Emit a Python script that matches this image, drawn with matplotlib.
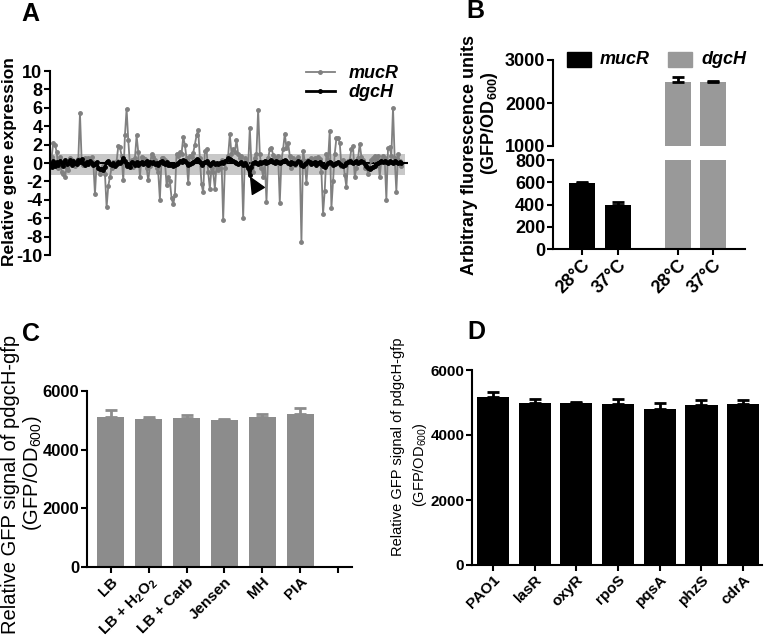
import numpy as np
import matplotlib
matplotlib.use("Agg")
import matplotlib.pyplot as plt

plt.rcParams['font.family'] = ['Liberation Sans', 'DejaVu Sans']
plt.rcParams['axes.linewidth'] = 1.5
plt.rcParams['axes.unicode_minus'] = False

# panel A: relative expression across conditions
mucR = [0.7, 2.2, 2.0, 1.2, -0.5, 0.6, -1.0, -1.2, -1.5, -0.5,
        -0.8, 0.5, 0.3, 0.2, -0.3, 0.2, 0.4, 5.4, 0.3, -0.2,
        0.5, 0.3, 0.5, 0.2, 0.6, 0.1, -3.4, 0.0, -0.5, -1.2,
        -0.8, -0.3, -1.2, -4.8, -2.5, -1.5, -0.5, 0.1, -0.2, 0.2,
        1.8, 1.7, 0.8, -1.9, 3.0, 5.9, 2.5, -0.2, 0.3, -0.4,
        0.5, 3.0, 1.2, -1.5, 0.7, 0.5, 0.4, -0.5, -1.9, -0.3,
        1.0, 0.6, 0.3, -0.5, -1.0, -4.0, 0.5, 0.5, 0.3, -2.4,
        -1.5, -2.0, -3.8, -4.5, -3.5, 1.0, 0.8, 1.2, 1.0, 2.8,
        2.0, 0.5, -2.2, 0.8, 0.6, 1.1, 2.0, 3.0, 3.6, 0.5,
        -2.3, -3.2, 1.3, 1.5, -1.0, -2.8, -0.5, -1.0, -2.8, -0.3,
        -0.8, -0.5, 0.3, -6.2, -0.5, 0.3, 0.8, 3.1, 1.0, 1.5,
        1.2, 2.5, 1.0, 0.5, 0.8, -6.0, 0.5, 0.2, -0.3, 3.8,
        -0.3, -1.0, 0.5, 1.0, 5.8, 1.0, -0.5, -1.5, 0.2, -4.2,
        0.5, 1.5, 1.6, 0.9, 0.5, 0.3, 0.8, -4.3, 0.3, 1.5,
        3.2, 1.6, 2.2, 0.8, -0.5, 0.5, -0.2, 0.3, 0.7, 0.2,
        -8.6, 1.3, 0.2, -2.2, 0.3, 0.2, 0.5, 0.3, 0.5, 0.1,
        0.6, 0.4, -1.0, -5.5, -3.0, 1.0, 0.3, 3.5, -4.9, -2.0,
        1.0, 2.7, 2.7, 2.2, -0.3, 0.3, -1.3, -2.6, 0.2, 0.3,
        1.5, 1.8, -1.5, -0.5, 0.5, 2.1, 0.7, 0.3, -0.5, -0.2,
        -1.2, -0.5, 0.3, 0.5, 0.8, 0.2, 0.8, -1.5, 0.3, 0.8,
        0.5, -4.0, 1.6, 1.7, 0.8, 6.0, 0.5, -3.1, 1.0, 0.2, -0.3]
dgcH = [-0.4, 0.2, -0.3, 0.1, -0.2, 0.2, 0.0, -0.3, 0.3, -0.1,
        0.0, 0.3, -0.2, 0.2, 0.0, -0.1, 0.3, 0.1, 0.4, 0.0,
        -0.2, 0.1, -0.1, 0.2, 0.0, -0.2, -0.1, 0.1, -0.5, -0.7,
        -0.6, -0.8, -0.4, 0.1, 0.2, -0.1, -0.2, 0.0, -0.3, -0.1,
        0.1, 0.0, 0.2, 0.5, 0.2, -0.3, -0.1, -0.4, 0.1, 0.0,
        -0.2, 0.1, -0.2, 0.0, 0.1, -0.1, 0.0, 0.2, -0.2, 0.1,
        0.0, 0.1, -0.1, 0.0, -0.2, 0.1, 0.2, 0.0, -0.1, 0.1,
        -0.2, -0.2, -0.1, -0.3, -0.2, -0.1, 0.0, 0.2, 0.1, 0.3,
        0.2, 0.0, -0.2, -0.1, 0.0, 0.1, 0.2, 0.4, 0.3, 0.1,
        -0.2, 0.0, 0.1, 0.2, 0.0, -0.2, 0.0, 0.1, -0.1, 0.0,
        -0.1, 0.0, 0.1, 0.0, 0.2, 0.3, 0.5, 0.4, 0.3, 0.2,
        0.1, 0.0, -0.1, 0.0, 0.1, -0.2, 0.0, -0.2, -0.5, -1.3,
        -0.4, 0.0, 0.1, 0.0, -0.1, 0.1, 0.0, 0.1, 0.2, 0.0,
        0.1, 0.2, 0.3, 0.1, 0.0, 0.2, 0.1, 0.0, 0.1, 0.2,
        0.3, 0.2, 0.0, -0.1, 0.1, 0.0, -0.1, 0.0, 0.2, 0.1,
        -0.2, -0.3, -0.1, 0.0, 0.2, 0.1, -0.1, 0.0, 0.1, -0.2,
        0.0, 0.1, -0.1, -0.3, -0.4, -0.2, 0.0, 0.1, 0.0, -0.2,
        -0.1, 0.0, 0.1, -0.1, -0.2, -0.3, -0.2, 0.0, 0.1, 0.2,
        0.1, 0.0, 0.1, 0.2, 0.0, 0.1, 0.2, 0.1, -0.1, -0.3,
        -0.5, -0.7, -0.5, -0.4, -0.3, -0.1, 0.0, 0.1, 0.2, 0.1,
        0.2, 0.1, 0.0, 0.2, 0.1, 0.0, 0.2, 0.1, 0.0, 0.1, 0.0]
band_lo, band_hi = -1.3, 1.0

# panel B
b_labels = ["28°C", "37°C", "28°C", "37°C"]
b_pos = [0, 1, 2.65, 3.62]
b_vals = [590, 400, 2495, 2490]
b_err = [8, 18, 100, 15]

# panel C
c_labels = ["LB", "LB + H$_\\mathregular{2}$O$_\\mathregular{2}$", "LB + Carb", "Jensen", "MH", "PIA", ""]
c_vals = [5100, 5050, 5070, 5000, 5130, 5220]
c_err = [250, 80, 100, 40, 100, 200]

# panel D
d_labels = ["PAO1", "lasR", "oxyR", "rpoS", "pqsA", "phzS", "cdrA"]
d_vals = [5180, 4980, 4990, 4960, 4800, 4930, 4940]
d_err = [150, 130, 40, 140, 170, 160, 140]

W, H = 766, 639
fig = plt.figure(figsize=(W / 100, H / 100), dpi=100)

def box(l, t, r, b):
    return [l / W, 1 - b / H, (r - l) / W, (b - t) / H]

def ftext(px, py, s, **kw):
    kw.setdefault('ha', 'center')
    return fig.text(px / W, 1 - py / H, s, va='center', **kw)

def prism(ax, fs):
    ax.spines['top'].set_visible(False)
    ax.spines['right'].set_visible(False)
    ax.tick_params(direction='out', length=4, width=1.5, labelsize=fs, pad=1.5)
    for t in ax.get_yticklabels() + ax.get_xticklabels():
        t.set_fontweight('bold')

# ---------- A ----------
axA = fig.add_axes(box(50, 71, 408, 255))
x = np.arange(len(mucR))
axA.fill_between([-0.5, 212], band_lo, band_hi, color='#c8c8c8', lw=0, zorder=0)
axA.axhline(0, color='black', lw=1.5, zorder=1)
axA.plot(x, mucR, '-o', color='#808080', lw=1.3, ms=2.5, label='mucR', zorder=2)
axA.plot(x, dgcH, '-o', color='black', lw=2, ms=2.5, label='dgcH', zorder=3)
axA.annotate('', xy=(119.5, -1.6), xytext=(124, -3.0),
             arrowprops=dict(facecolor='black', edgecolor='black', width=1.5, headwidth=10, headlength=11))
axA.set_xlim(-1, 214)
axA.set_ylim(-10, 10)
axA.set_yticks(range(-10, 11, 2))
axA.set_xticks([])
axA.spines['bottom'].set_visible(False)
prism(axA, 13)
ftext(10, 162, 'Relative gene expression', rotation=90, fontsize=12.5, fontweight='bold')
axA.legend(loc='upper right', bbox_to_anchor=(1.0, 1.08), frameon=False, handlelength=1.6,
           prop=dict(size=13, weight='bold', style='italic'), borderpad=0, labelspacing=0.1)

# ---------- B ----------
axBt = fig.add_axes(box(553, 60, 745, 146))
axBb = fig.add_axes(box(553, 160, 745, 249))
colors = ['black', 'black', '#999999', '#999999']
for ax in (axBt, axBb):
    ax.bar(b_pos, b_vals, width=0.72, color=colors)
    ax.errorbar(b_pos, b_vals, yerr=[[0] * 4, b_err], fmt='none', ecolor='black', elinewidth=2, capsize=4, capthick=2)
    ax.set_xlim(-0.8, 4.5)
axBt.set_ylim(1000, 3000)
axBt.set_yticks([1000, 2000, 3000])
axBt.spines['bottom'].set_visible(False)
axBt.set_xticks([])
axBb.set_ylim(0, 800)
axBb.set_yticks(range(0, 801, 200))
axBb.set_xticks(b_pos)
axBb.set_xticklabels(b_labels, rotation=45, ha='right', rotation_mode='anchor')
prism(axBt, 13)
prism(axBb, 13)
ftext(470, 155, 'Arbitrary fluorescence units', rotation=90, fontsize=13, fontweight='bold')
ftext(490, 123, '(GFP/OD$_\\mathregular{600}$)', rotation=90, fontsize=13, fontweight='bold')
# legend of panel B drawn as figure patches
for (l, r), c, name in [((567, 591), 'black', 'mucR'), ((668, 692), '#999999', 'dgcH')]:
    fig.patches.append(plt.Rectangle((l / W, 1 - 67 / H), (r - l) / W, 15 / H, color=c,
                                     transform=fig.transFigure, figure=fig))
    ftext(r + 9, 60, name, ha='left', fontsize=13, fontweight='bold', style='italic')

# ---------- C ----------
axC = fig.add_axes(box(87, 391, 352, 567))
cx = np.arange(len(c_labels))
axC.bar(cx[:len(c_vals)], c_vals, width=0.72, color='#8c8c8c')
axC.errorbar(cx[:len(c_vals)], c_vals, yerr=[[0] * len(c_err), c_err], fmt='none', ecolor='#8c8c8c',
             elinewidth=2, capsize=4, capthick=2)
axC.set_xlim(-0.63, 6.37)
axC.set_ylim(0, 6000)
axC.set_yticks(range(0, 6001, 2000))
axC.set_xticks(cx)
axC.set_xticklabels(c_labels, rotation=45, ha='right', rotation_mode='anchor')
prism(axC, 12)
for t in axC.get_xticklabels():
    t.set_fontsize(11)
ftext(11, 484, 'Relative GFP signal of pdgcH-gfp', rotation=90, fontsize=14.5)
ftext(32, 473, '(GFP/OD$_\\mathregular{600}$)', rotation=90, fontsize=14.5)

# ---------- D ----------
axD = fig.add_axes(box(472, 370, 762, 565))
dx = np.arange(len(d_labels))
axD.bar(dx, d_vals, width=0.77, color='black')
axD.errorbar(dx, d_vals, yerr=[[0] * len(d_err), d_err], fmt='none', ecolor='black',
             elinewidth=2, capsize=4, capthick=2)
axD.set_xlim(-0.5, 6.45)
axD.set_ylim(0, 6000)
axD.set_yticks(range(0, 6001, 2000))
axD.set_xticks(dx)
axD.set_xticklabels(d_labels, rotation=45, ha='right', rotation_mode='anchor')
prism(axD, 11)
ftext(398, 447, 'Relative GFP signal of pdgcH-gfp', rotation=90, fontsize=10.5)
ftext(420, 465, '(GFP/OD$_\\mathregular{600}$)', rotation=90, fontsize=10.5)

for lab, px, py in [('A', 30, 14), ('B', 475, 11), ('C', 31, 334), ('D', 476, 332)]:
    ftext(px, py, lab, fontsize=18, fontweight='bold')

fig.savefig('out.png', dpi=100)
